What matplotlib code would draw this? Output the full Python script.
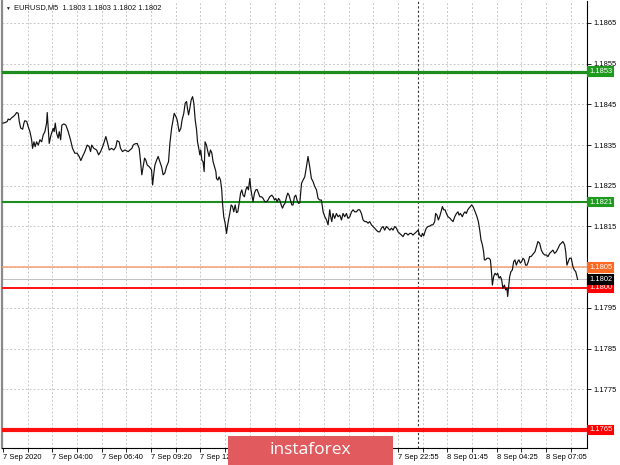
import matplotlib
matplotlib.use("Agg")
import matplotlib.pyplot as plt
from matplotlib.patches import Rectangle
from matplotlib.transforms import blended_transform_factory

# EURUSD M5, bar number counted from the first bar on screen
bars = [
    0, 1.3, 2.8, 3.4, 4.5, 5.6, 6.7, 7.8, 8.9, 9.9,
    10.6, 11.5, 12.8, 13.6, 14.2, 15.4, 16.4, 17.5, 18.6, 19.2,
    20.1, 20.9, 21.8, 22.9, 24.0, 25.1, 26.1, 27.2, 28.3, 28.7,
    29.3, 30.0, 30.9, 31.5, 32.6, 33.2, 33.9, 34.8, 35.8, 36.5,
    37.4, 38.2, 39.5, 40.8, 42.3, 43.8, 45.1, 46.6, 48.1, 49.4,
    50.5, 51.6, 53.1, 54.6, 55.9, 56.8, 57.5, 58.9, 60.7, 62.0,
    63.3, 65.0, 66.7, 67.6, 68.9, 70.4, 71.9, 73.2, 74.0, 75.3,
    76.2, 77.5, 79.0, 81.2, 82.3, 83.6, 84.4, 85.5, 87.0, 88.3,
    89.2, 90.0, 90.9, 91.8, 92.6, 93.5, 94.8, 96.3, 97.0, 97.8,
    98.5, 99.6, 100.6, 101.7, 102.8, 103.8, 104.9, 106.0, 107.3, 108.2,
    109.3, 110.3, 111.0, 112.1, 112.9, 114.2, 115.3, 116.1, 117.2, 118.1,
    119.0, 119.6, 120.3, 121.1, 122.0, 122.9, 123.7, 124.6, 125.5, 126.1,
    127.1, 127.6, 128.2,
    128.9, 129.7, 130.4, 131.0, 131.9, 132.8, 133.6, 134.5, 135.4, 136.2,
    137.1, 138.0, 138.4, 139.3, 140.1, 141.0, 141.8, 142.3, 143.1, 144.0,
    144.9, 145.5, 146.2, 147.0, 147.9, 148.8, 149.6, 150.5, 151.4, 152.2,
    153.1, 154.0, 154.8, 155.6, 156.5, 157.4, 158.2, 159.1, 160.0, 160.6,
    161.3, 162.1, 163.0, 163.9, 164.7, 165.6, 166.5, 167.6, 168.6, 169.7,
    170.8, 171.8, 172.9, 174.2, 175.1, 176.0, 176.8, 177.7, 178.6, 179.4,
    180.3, 181.2, 182.0, 182.8, 183.8, 184.6, 185.4, 186.3, 187.2, 188.0,
    188.9, 189.8, 190.6, 191.5, 192.4, 193.5, 194.5, 195.6, 196.7, 197.7,
    198.8, 199.9, 201.0, 202.1, 203.2, 204.2, 205.3, 206.4, 207.5, 208.6,
    209.7, 210.7, 211.8, 212.4, 213.1, 213.9, 215.0, 216.1, 217.2, 218.3,
    219.4, 220.4, 221.5, 222.6, 223.6, 224.8, 225.9, 226.9, 228.0, 229.1,
    230.1, 231.2, 232.3, 233.4, 234.5, 235.6, 236.6, 237.7, 238.8, 239.8,
    240.9, 242.0, 243.1, 244.2, 245.3, 246.3, 247.4, 248.5, 249.6, 250.7,
    251.8, 252.8, 253.9, 255.0, 256.0, 257.1, 258.2, 259.3, 260.4, 261.5,
    262.5, 263.6, 264.7, 265.7, 266.9, 268.0, 269.0, 270.1, 271.2, 271.8,
    272.7, 273.5, 274.4, 275.5, 276.6, 277.7, 278.7, 279.8, 280.4, 281.3,
    282.2, 283.0, 283.9, 284.8, 285.6, 286.5, 287.4, 288.4, 289.5, 290.6,
    291.7, 292.8, 293.9, 294.9, 295.6, 296.5, 297.7, 298.6, 299.4, 300.3,
    301.2, 302.0, 302.9, 303.8, 304.6, 305.5, 306.4, 307.2, 308.1, 309.0,
    309.8, 310.7, 311.5, 312.0, 312.8, 313.7, 315.0, 315.9, 316.5, 317.2,
    318.0, 318.9, 319.8, 320.6, 321.5, 322.4, 323.2, 324.0, 325.0, 325.8,
    326.6, 327.1, 327.7, 328.4, 329.2, 330.1, 331.0, 331.8, 332.7, 333.6,
    334.4, 335.3, 336.2, 337.0, 337.9, 338.7, 339.6, 340.5, 341.3, 342.2,
    343.1, 343.9, 344.8, 345.7, 346.7, 347.8, 348.9, 350.0, 351.1, 352.2,
    353.2, 354.3, 355.4, 356.4, 357.5, 358.6, 359.7, 360.8, 361.9, 362.9,
    364.0, 364.7, 365.5, 366.4, 367.2, 368.3, 369.4, 370.3, 371.2, 372.0,
    372.4,
]

close = [
    1.18404, 1.18405, 1.18408, 1.18414, 1.18412, 1.18417, 1.18420, 1.18424, 1.18430, 1.18428,
    1.18408, 1.18392, 1.18389, 1.18404, 1.18410, 1.18408, 1.18395, 1.18383, 1.18363, 1.18342,
    1.18358, 1.18346, 1.18358, 1.18350, 1.18363, 1.18358, 1.18375, 1.18383, 1.18404, 1.18430,
    1.18395, 1.18354, 1.18371, 1.18379, 1.18391, 1.18383, 1.18404, 1.18379, 1.18367, 1.18383,
    1.18363, 1.18399, 1.18402, 1.18399, 1.18383, 1.18363, 1.18342, 1.18330, 1.18330, 1.18322,
    1.18312, 1.18322, 1.18334, 1.18350, 1.18346, 1.18334, 1.18350, 1.18342, 1.18338, 1.18326,
    1.18334, 1.18350, 1.18371, 1.18358, 1.18338, 1.18342, 1.18338, 1.18346, 1.18361, 1.18358,
    1.18342, 1.18334, 1.18338, 1.18334, 1.18338, 1.18342, 1.18350, 1.18353, 1.18354, 1.18342,
    1.18309, 1.18277, 1.18297, 1.18318, 1.18313, 1.18301, 1.18297, 1.18289, 1.18252, 1.18281,
    1.18301, 1.18313, 1.18322, 1.18309, 1.18297, 1.18277, 1.18281, 1.18297, 1.18309, 1.18354,
    1.18391, 1.18412, 1.18428, 1.18420, 1.18412, 1.18383, 1.18391, 1.18412, 1.18428, 1.18453,
    1.18457, 1.18440, 1.18424, 1.18440, 1.18461, 1.18469, 1.18453, 1.18412, 1.18387, 1.18358,
    1.18338, 1.18326, 1.18338,
    1.18313, 1.18309, 1.18285, 1.18358, 1.18350, 1.18334, 1.18322, 1.18338, 1.18330, 1.18309,
    1.18297, 1.18285, 1.18268, 1.18264, 1.18272, 1.18264, 1.18240, 1.18207, 1.18174, 1.18158,
    1.18133, 1.18150, 1.18166, 1.18182, 1.18203, 1.18199, 1.18186, 1.18203, 1.18184, 1.18186,
    1.18207, 1.18232, 1.18240, 1.18227, 1.18223, 1.18240, 1.18248, 1.18240, 1.18268, 1.18244,
    1.18227, 1.18211, 1.18232, 1.18240, 1.18241, 1.18232, 1.18223, 1.18223, 1.18219, 1.18211,
    1.18211, 1.18215, 1.18223, 1.18227, 1.18223, 1.18215, 1.18219, 1.18211, 1.18219, 1.18215,
    1.18203, 1.18195, 1.18203, 1.18207, 1.18223, 1.18232, 1.18227, 1.18215, 1.18203, 1.18203,
    1.18223, 1.18227, 1.18215, 1.18207, 1.18208, 1.18256, 1.18264, 1.18272, 1.18297, 1.18322,
    1.18297, 1.18268, 1.18260, 1.18248, 1.18240, 1.18219, 1.18215, 1.18215, 1.18186, 1.18174,
    1.18166, 1.18154, 1.18191, 1.18174, 1.18162, 1.18182, 1.18170, 1.18182, 1.18174, 1.18178,
    1.18166, 1.18182, 1.18174, 1.18182, 1.18170, 1.18174, 1.18186, 1.18191, 1.18186, 1.18186,
    1.18191, 1.18191, 1.18182, 1.18166, 1.18162, 1.18162, 1.18158, 1.18162, 1.18154, 1.18150,
    1.18146, 1.18141, 1.18137, 1.18137, 1.18146, 1.18150, 1.18141, 1.18150, 1.18146, 1.18141,
    1.18146, 1.18141, 1.18150, 1.18146, 1.18137, 1.18133, 1.18129, 1.18125, 1.18133, 1.18133,
    1.18129, 1.18133, 1.18133, 1.18129, 1.18133, 1.18137, 1.18141, 1.18129, 1.18125, 1.18133,
    1.18127, 1.18137, 1.18146, 1.18150, 1.18151, 1.18154, 1.18154, 1.18162, 1.18182, 1.18178,
    1.18166, 1.18174, 1.18186, 1.18199, 1.18191, 1.18191, 1.18182, 1.18174, 1.18171, 1.18166,
    1.18162, 1.18174, 1.18182, 1.18186, 1.18178, 1.18182, 1.18174, 1.18182, 1.18186, 1.18182,
    1.18191, 1.18195, 1.18199, 1.18203, 1.18199, 1.18191, 1.18182, 1.18174, 1.18162, 1.18141,
    1.18117, 1.18105, 1.18088, 1.18068, 1.18068, 1.18072, 1.18072, 1.18068, 1.18043, 1.18006,
    1.18027, 1.18035, 1.18031, 1.18035, 1.18023, 1.18027, 1.18019, 1.17998, 1.18006, 1.17994,
    1.17998, 1.17978, 1.18002, 1.18027, 1.18039, 1.18043, 1.18064, 1.18068, 1.18055, 1.18064,
    1.18068, 1.18060, 1.18064, 1.18072, 1.18068, 1.18055, 1.18055, 1.18064, 1.18076, 1.18076,
    1.18080, 1.18084, 1.18088, 1.18100, 1.18113, 1.18109, 1.18092, 1.18084, 1.18080, 1.18080,
    1.18076, 1.18084, 1.18088, 1.18092, 1.18084, 1.18088, 1.18096, 1.18105, 1.18109, 1.18113,
    1.18105, 1.18088, 1.18055, 1.18064, 1.18072, 1.18072, 1.18051, 1.18043, 1.18039, 1.18027,
    1.18020,
]

# horizontal levels drawn on the chart
level_price = [1.1853, 1.1821, 1.1805, 1.1800, 1.1765]
level_text = ["1.1853", "1.1821", "1.1805", "1.1800", "1.1765"]
last_price = 1.1802
last_text = "1.1802"

price_ticks = [1.1775, 1.1785, 1.1795, 1.1805, 1.1815, 1.1825, 1.1835, 1.1845, 1.1855, 1.1865]
# 1.1805 sits under the orange level label, so it gets no text
price_tick_text = ["1.1775", "1.1785", "1.1795", "", "1.1815", "1.1825", "1.1835",
                   "1.1845", "1.1855", "1.1865"]
# labels 14:40 .. 20:00 are hidden under the watermark in the source
time_tick_bars = [0, 32, 64, 96, 128, 256, 288, 320, 352]
time_tick_text = ["7 Sep 2020", "7 Sep 04:00", "7 Sep 06:40", "7 Sep 09:20",
                  "7 Sep 12:00", "7 Sep 22:55", "8 Sep 01:45", "8 Sep 04:25", "8 Sep 07:05"]
day_break_bar = 269
header = "EURUSD,M5  1.1803 1.1803 1.1802 1.1802"

# styles
line_col = ["#1e8c1e", "#1e8c1e", "#f4a274", "#ff1010", "#ff1010"]
box_col = ["#1e9a1e", "#1e9a1e", "#ff6a22", "#ff0000", "#ff0000"]
line_w = [2.3, 1.5, 1.1, 1.4, 3.0]
FONT = ["Liberation Sans", "DejaVu Sans"]
FS = 5.4

fig = plt.figure(figsize=(6.2, 4.65), dpi=100)
W, H = 620, 465
ax = fig.add_axes([2 / W, 1 - 447.5 / H, 585 / W, 446.5 / H])

ax.plot(bars, close, color="#111111", lw=0.85, zorder=4)

for p, c, w in zip(level_price, line_col, line_w):
    ax.axhline(p, color=c, lw=w, zorder=3)
ax.axhline(last_price, color="#c0c0c0", lw=0.7, zorder=2)
ax.axvline(day_break_bar, color="#333333", lw=0.8, ls=(0, (2, 2)), zorder=2)

ax.set_xlim(-0.6, 378.5)
ax.set_ylim(1.17607, 1.18704)

# grid: every 16 bars vertically, every 10 pips horizontally
grid_bars = list(range(16, 378, 16))
for b in grid_bars:
    ax.axvline(b, color="#c8c8c8", lw=0.7, ls=(0, (2, 2)), zorder=1)
for p in price_ticks:
    ax.axhline(p, color="#c8c8c8", lw=0.7, ls=(0, (2, 2)), zorder=1)

ax.set_xticks([0] + grid_bars)
xlabels = []
for b in [0] + grid_bars:
    xlabels.append(time_tick_text[time_tick_bars.index(b)] if b in time_tick_bars else "")
ax.set_xticklabels(xlabels, fontsize=FS, family=FONT, ha="left")
ax.tick_params(axis="x", direction="out", length=3, width=0.6, pad=1.5)

ax.yaxis.tick_right()
ax.set_yticks(price_ticks)
ax.set_yticklabels(price_tick_text, fontsize=FS, family=FONT)
ax.tick_params(axis="y", direction="out", length=3, width=0.6, pad=1.5)

ax.spines["top"].set_visible(False)
ax.spines["left"].set_color("#8a8a8a")
ax.spines["left"].set_linewidth(1.6)
ax.spines["right"].set_linewidth(0.8)
ax.spines["bottom"].set_linewidth(0.8)

# price labels on the right scale
tr = blended_transform_factory(ax.transAxes, ax.transData)
for p, t, c in zip(level_price, level_text, box_col):
    ax.text(1.004, p, t, transform=tr, color="white", fontsize=FS, family=FONT,
            va="center", ha="left", clip_on=False, zorder=10,
            bbox=dict(boxstyle="square,pad=0.12", fc=c, ec=c, lw=1.5))
ax.text(1.004, last_price, last_text, transform=tr, color="white", fontsize=FS,
        family=FONT, va="center", ha="left", clip_on=False, zorder=10,
        bbox=dict(boxstyle="square,pad=0.12", fc="black", ec="black", lw=1.5))

# header
fig.text(5 / W, 1 - 8 / H, "\u25bc", fontsize=3.5, family=FONT, va="center", color="#222222")
fig.text(14 / W, 1 - 8 / H, header, fontsize=FS, family=FONT, va="center", color="#111111")

# watermark
fig.patches.append(Rectangle((228 / W, 0), 165 / W, 29 / H, transform=fig.transFigure,
                             fc="#e05a5e", ec="none", zorder=20))
fig.text(310 / W, 15 / H, "instaforex", fontsize=12.5, family=["Open Sans", "DejaVu Sans"],
         color="white", ha="center", va="center", zorder=21)

fig.savefig("out.png", dpi=100)
